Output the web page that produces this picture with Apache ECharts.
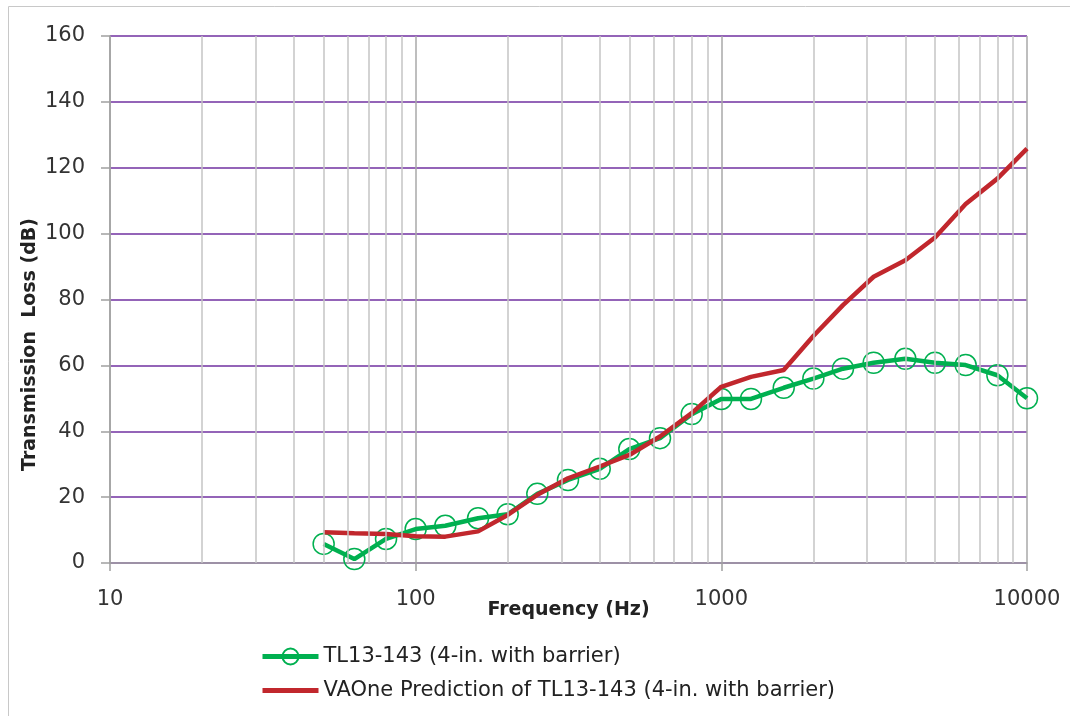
<!DOCTYPE html>
<html>
<head>
<meta charset="utf-8">
<script src="https://cdn.jsdelivr.net/npm/echarts@6/dist/echarts.min.js"></script>
<style>
html,body{margin:0;padding:0;background:#fff;}
#chart{width:1070px;height:716px;}
</style>
</head>
<body>
<div id="chart"></div>
<script>
var frequencies = [50,63,80,100,125,160,200,250,315,400,500,630,800,1000,1250,1600,2000,2500,3150,4000,5000,6300,8000,10000];
var measured = [5.8,1.2,7.3,10.3,11.3,13.6,14.8,21,25.2,28.6,34.6,37.9,45.2,49.8,49.8,53.2,56,59,60.8,62,60.8,60.1,57,50];
var predicted = [9.3,9,8.8,8.1,8,9.6,14.6,20.7,25.7,29.3,32.8,38.4,45.5,53.5,56.5,58.6,68.9,78.3,86.9,91.9,98.8,109,116.7,125.8];
var minorGrid = [20,30,40,50,60,70,80,90,200,300,400,500,600,700,800,900,2000,3000,4000,5000,6000,7000,8000,9000];
var yTicks = [0,20,40,60,80,100,120,140,160];
var seriesNames = ['TL13-143 (4-in. with barrier)','VAOne Prediction of TL13-143 (4-in. with barrier)'];

function pairs(xs, ys){ return xs.map(function(x,i){ return [x, ys[i]]; }); }

var chart = echarts.init(document.getElementById('chart'));
var font = '"DejaVu Sans", sans-serif';
chart.setOption({
  animation:false,
  textStyle:{fontFamily:font},
  graphic:[{type:'rect', shape:{x:8.5,y:6.5,width:1100,height:800}, style:{fill:'none',stroke:'#c8c8c8',lineWidth:1}, silent:true, z:-10}],
  grid:{left:110,right:43,top:36,bottom:153},
  legend:{
    orient:'vertical', left:260, top:646, padding:0, itemWidth:56, itemHeight:20, itemGap:13,
    lineStyle:{width:5},
    textStyle:{fontSize:21,color:'#222',fontFamily:font},
    data:[{name:seriesNames[0]},{name:seriesNames[1], itemStyle:{opacity:0}}]
  },
  xAxis:{
    type:'log', logBase:10, min:10, max:10000,
    name:'Frequency (Hz)', nameLocation:'middle', nameGap:38, nameMoveOverlap:false,
    nameTextStyle:{fontSize:19,fontWeight:'bold',color:'#222',fontFamily:font},
    axisLine:{lineStyle:{color:'#a0a0a0',width:1.5}},
    axisTick:{show:true,length:8,lineStyle:{color:'#a0a0a0',width:1.5}},
    axisLabel:{fontSize:21,color:'#333',margin:26,formatter:function(v){return String(v);}},
    splitLine:{show:true,lineStyle:{color:'#a8a8a8',width:1.5}},
    minorTick:{show:false}, minorSplitLine:{show:false}
  },
  yAxis:{
    type:'value', min:yTicks[0], max:yTicks[yTicks.length-1], interval:20,
    name:'Transmission  Loss (dB)', nameLocation:'middle', nameGap:70, nameMoveOverlap:false,
    nameTextStyle:{fontSize:19,fontWeight:'bold',color:'#222',fontFamily:font,padding:[0,90,0,0]},
    axisLine:{show:true,lineStyle:{color:'#a0a0a0',width:1.5}},
    axisTick:{show:true,length:9,lineStyle:{color:'#a0a0a0',width:1.5}},
    axisLabel:{fontSize:21,color:'#333',margin:25},
    splitLine:{show:true,lineStyle:{color:'#7030a0',width:1.5}}
  },
  series:[
    {
      type:'line', data:[], silent:true, z:1,
      markLine:{silent:true, symbol:['none','none'], label:{show:false},
        lineStyle:{color:'#c4c4c4',width:1.5,type:'solid'},
        emphasis:{disabled:true},
        data:minorGrid.map(function(v){return {xAxis:v};})}
    },
    {
      name:seriesNames[0], type:'line', data:pairs(frequencies, measured), z:3,
      symbol:'circle', symbolSize:21, showAllSymbol:true,
      lineStyle:{color:'#00b050',width:4.5},
      itemStyle:{color:'rgba(255,255,255,0)',borderColor:'#00b050',borderWidth:1.5}
    },
    {
      name:seriesNames[1], type:'line', data:pairs(frequencies, predicted), z:4,
      symbol:'none',
      lineStyle:{color:'#c1272d',width:4.5},
      itemStyle:{color:'#c1272d'}
    }
  ]
});
</script>
</body>
</html>
